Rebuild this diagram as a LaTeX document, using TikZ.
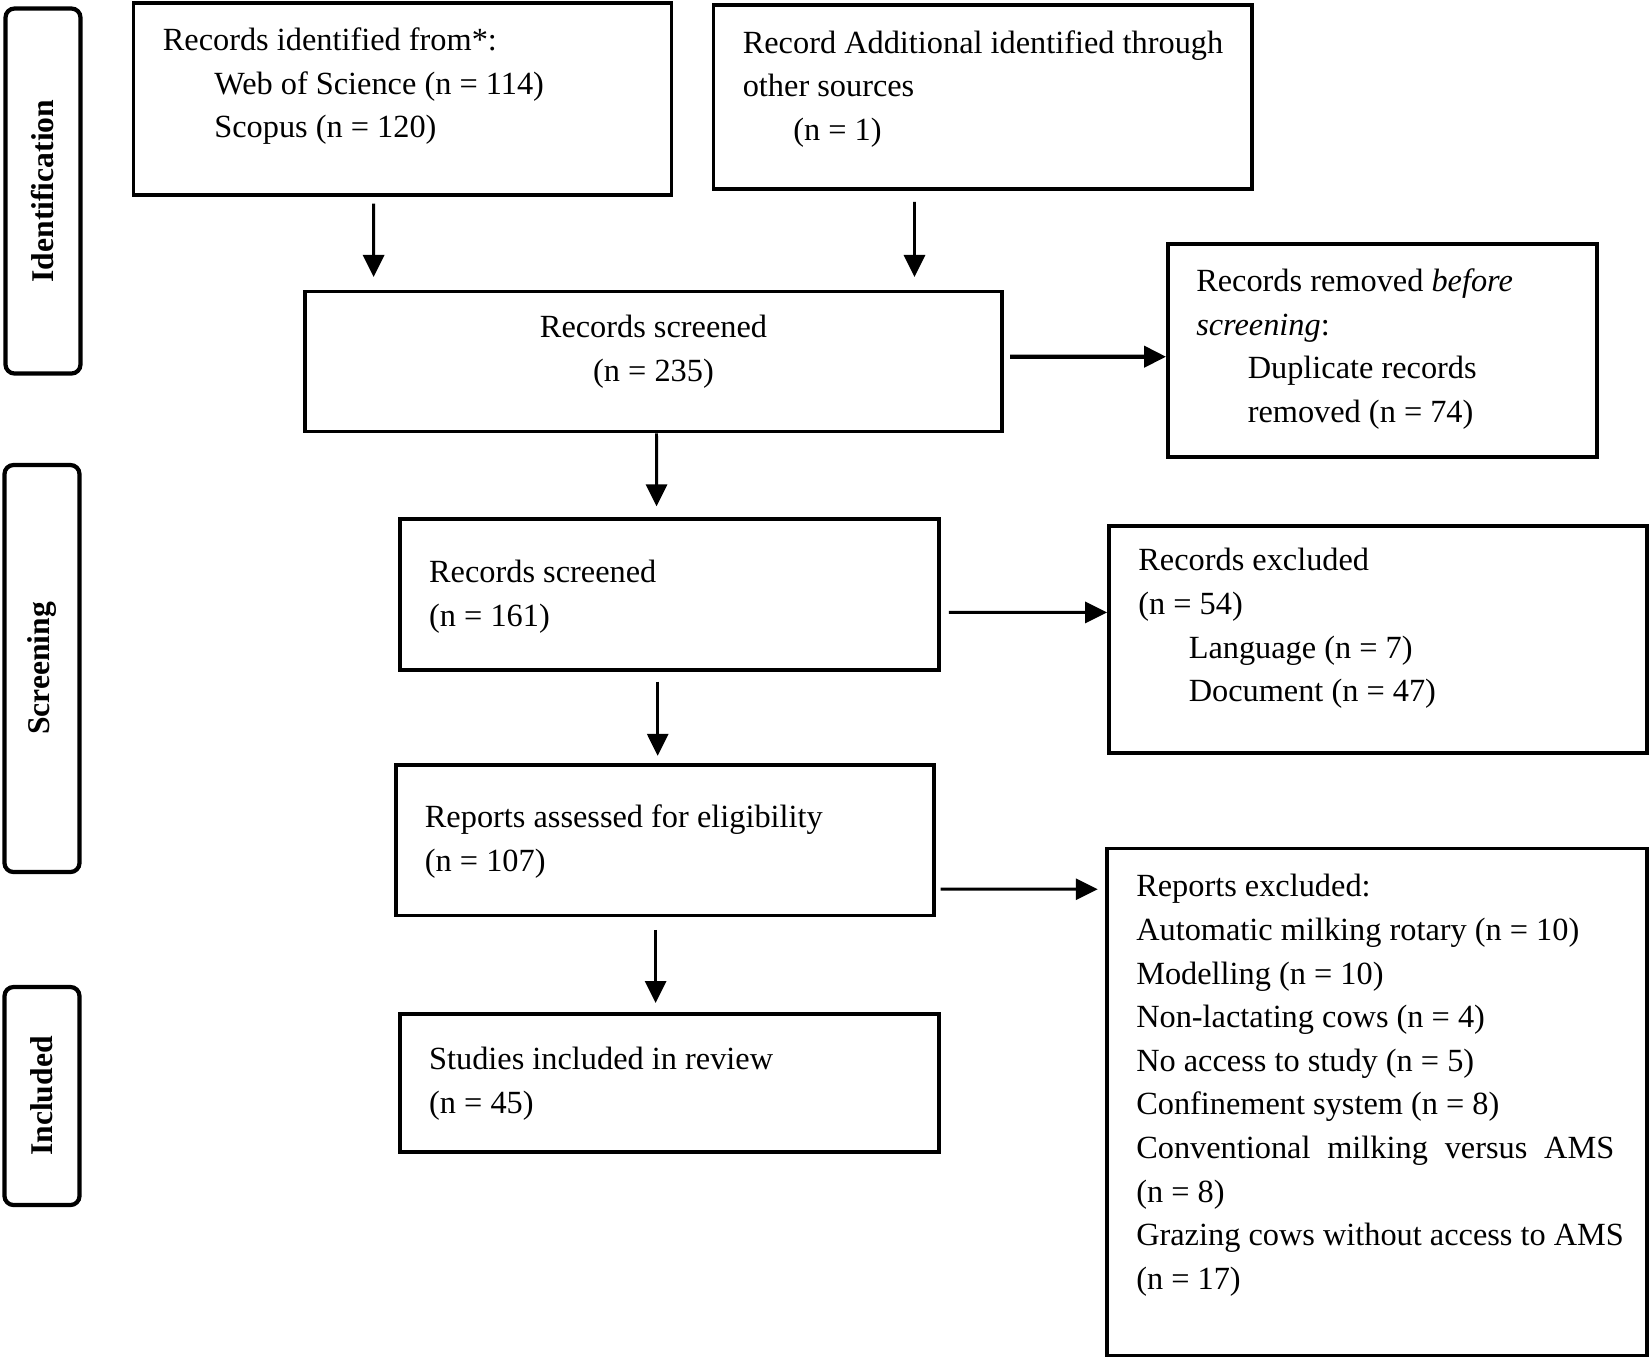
\documentclass[tikz,border=0pt]{standalone}
\usepackage{fontspec}
\setmainfont{Liberation Serif}
\usetikzlibrary{arrows.meta}

\begin{document}
\begin{tikzpicture}[>={Triangle[length=0.22cm,width=0.21cm]},
    font=\fontsize{9.2}{12.4}\selectfont,
    box/.style={draw, line width=1.1pt, inner sep=0pt},
    stage/.style={draw, line width=1.2pt, rounded corners=0.09cm, rotate=90,
        inner sep=0pt, minimum height=0.75cm, font=\fontsize{9}{12.4}\selectfont\bfseries},
    txt/.style={anchor=north west, inner sep=0pt, align=left},
    arr/.style={->, line width=0.85pt}]
    \useasboundingbox (0,0) rectangle (16.5,-13.59);

    \node[stage, minimum width=3.65cm] (ident) at (0.43,-1.91) {Identification};
    \node[stage, minimum width=4.07cm] (screen) at (0.42,-6.685) {Screening};
    \node[stage, minimum width=2.18cm] (incl) at (0.42,-10.96) {Included};

    \node[box, minimum width=5.38cm, minimum height=1.915cm] (db) at (4.025,-0.99) {};
    \node[box, minimum width=5.387cm, minimum height=1.84cm] (other) at (9.829,-0.973) {};
    \node[box, minimum width=6.966cm, minimum height=1.40cm] (screenA) at (6.535,-3.615) {};
    \node[box, minimum width=4.294cm, minimum height=2.127cm] (removed) at (13.827,-3.503) {};
    \node[box, minimum width=5.388cm, minimum height=1.515cm] (screenB) at (6.693,-5.945) {};
    \node[box, minimum width=5.378cm, minimum height=2.272cm] (exclA) at (13.78,-6.398) {};
    \node[box, minimum width=5.387cm, minimum height=1.505cm] (assessed) at (6.65,-8.403) {};
    \node[box, minimum width=5.40cm, minimum height=5.07cm] (exclB) at (13.77,-11.02) {};
    \node[box, minimum width=5.388cm, minimum height=1.379cm] (included) at (6.693,-10.833) {};

    \node[txt] (dbtxt) at ([shift={(0.306,-0.179)}]db.north west)
        {\strut Records identified from*:\\
         \hspace*{0.515cm}Web of Science (n = 114)\\
         \hspace*{0.515cm}Scopus (n = 120)};
    \node[txt] (othertxt) at ([shift={(0.305,-0.188)}]other.north west)
        {\strut Record Additional identified through\\
         other sources\\
         \hspace*{0.505cm}(n = 1)};
    \node[txt, anchor=north, align=center] (screenAtxt) at ([yshift=-0.169cm]screenA.north)
        {\strut Records screened\\(n = 235)};
    \node[txt] (removedtxt) at ([shift={(0.295,-0.184)}]removed.north west)
        {\strut Records removed \textit{before}\\
         \textit{screening}:\\
         \hspace*{0.515cm}Duplicate records\\
         \hspace*{0.515cm}removed (n = 74)};
    \node[txt] (screenBtxt) at ([shift={(0.305,-0.346)}]screenB.north west)
        {\strut Records screened\\(n = 161)};
    \node[txt] (exclAtxt) at ([shift={(0.305,-0.155)}]exclA.north west)
        {\strut Records excluded\\
         (n = 54)\\
         \hspace*{0.504cm}Language (n = 7)\\
         \hspace*{0.504cm}Document (n = 47)};
    \node[txt] (assessedtxt) at ([shift={(0.305,-0.334)}]assessed.north west)
        {\strut Reports assessed for eligibility\\(n = 107)};
    \node[txt] (exclBtxt) at ([shift={(0.305,-0.192)}]exclB.north west)
        {\strut Reports excluded:\\
         Automatic milking rotary (n = 10)\\
         Modelling (n = 10)\\
         Non-lactating cows (n = 4)\\
         No access to study (n = 5)\\
         Confinement system (n = 8)\\
         \makebox[4.78cm][s]{Conventional milking versus AMS}\\
         (n = 8)\\
         Grazing cows without access to AMS\\
         (n = 17)};
    \node[txt] (includedtxt) at ([shift={(0.305,-0.26)}]included.north west)
        {\strut Studies included in review\\(n = 45)};

    \draw[arr, shorten <=0.07cm, shorten >=0.126cm] ([xshift=-0.289cm]db.south) -- ([xshift=-2.799cm]screenA.north);
    \draw[arr, shorten <=0.107cm, shorten >=0.126cm] ([xshift=-0.684cm]other.south) -- ([xshift=2.61cm]screenA.north);
    \draw[arr, line width=1.2pt, shorten <=0.065cm] ([yshift=0.048cm]screenA.east) -- ([yshift=-0.064cm]removed.west);
    \draw[arr, shorten >=0.105cm] ([xshift=0.03cm]screenA.south) -- ([xshift=-0.127cm]screenB.north);
    \draw[arr, shorten <=0.083cm] ([yshift=-0.179cm]screenB.east) -- ([yshift=0.274cm]exclA.west);
    \draw[arr, shorten <=0.095cm, shorten >=0.073cm] ([xshift=-0.116cm]screenB.south) -- ([xshift=-0.073cm]assessed.north);
    \draw[arr, shorten <=0.043cm, shorten >=0.073cm] ([yshift=-0.489cm]assessed.east) -- ([yshift=2.128cm]exclB.west);
    \draw[arr, shorten <=0.125cm, shorten >=0.094cm] ([xshift=-0.094cm]assessed.south) -- ([xshift=-0.137cm]included.north);
\end{tikzpicture}
\end{document}
